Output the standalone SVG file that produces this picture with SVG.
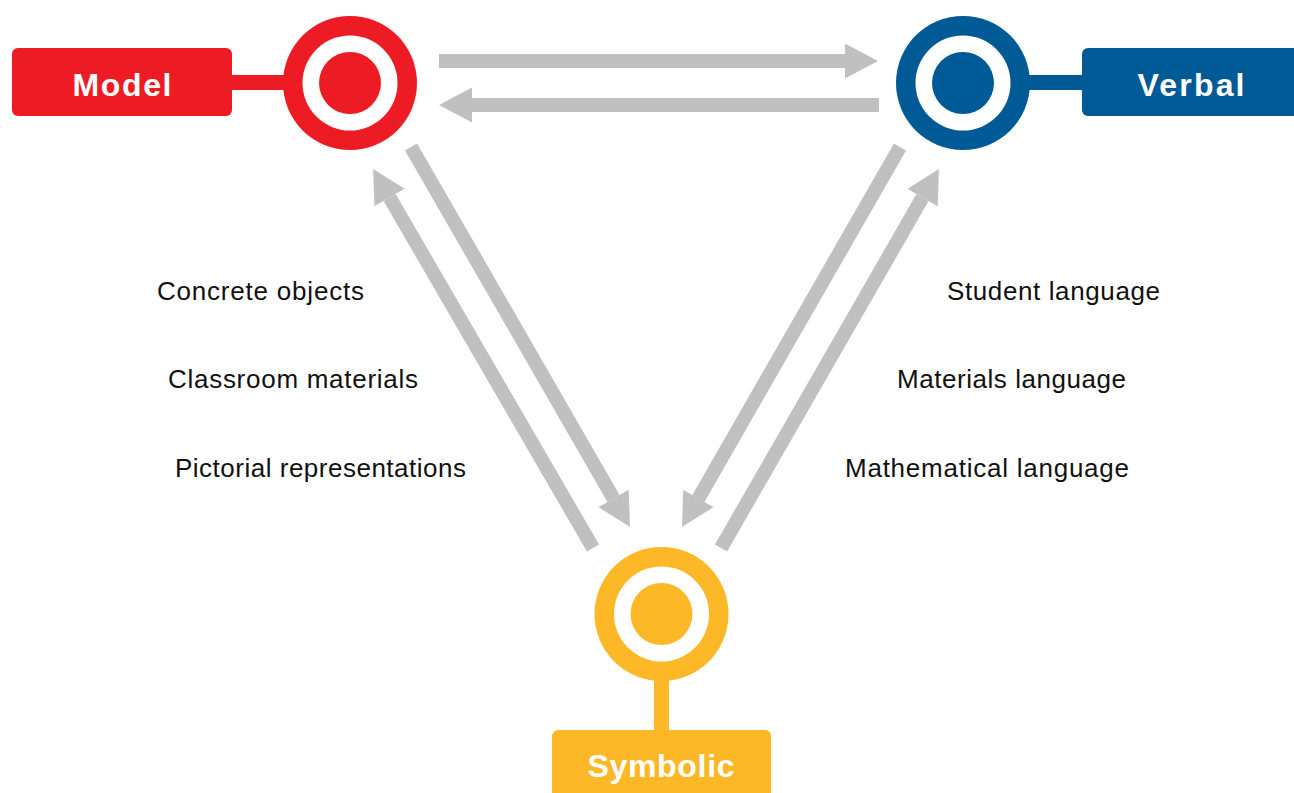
<svg xmlns="http://www.w3.org/2000/svg" width="1294" height="793" viewBox="0 0 1294 793">
<defs>
<style>
.lbl{font-family:"Liberation Sans",Arial,sans-serif;font-weight:bold;font-size:32px;fill:#ffffff;text-anchor:middle}
.txt{font-family:"Liberation Sans",Arial,sans-serif;font-size:26px;fill:#111111}
.conn line{stroke:#c0c0c0;stroke-width:14;stroke-linecap:butt;fill:none;marker-end:url(#ah)}
.red{fill:#ed1c24}
.blue{fill:#005a96}
.yel{fill:#fcb827}
</style>
<marker id="ah" viewBox="0 0 33 35" refX="0" refY="17.5" markerUnits="userSpaceOnUse" markerWidth="33" markerHeight="35" orient="auto">
<path d="M0,0 L33,17.5 L0,35 z" fill="#c0c0c0"/>
</marker>
</defs>
<rect width="1294" height="793" fill="#ffffff"/>
<g id="connectors" class="conn">
<line x1="439" y1="61" x2="845" y2="61"/>
<line x1="879" y1="105" x2="472" y2="105"/>
<line x1="411" y1="147" x2="613.5" y2="498.4"/>
<line x1="593" y1="548" x2="389.6" y2="197.5"/>
<line x1="900" y1="147" x2="698.4" y2="498.4"/>
<line x1="721" y1="548" x2="922.5" y2="197.6"/>
</g>
<g id="model">
<rect class="red" x="12" y="48" width="220" height="68" rx="6"/>
<rect class="red" x="230" y="75" width="56" height="15"/>
<circle class="red" cx="350" cy="83" r="67"/>
<circle cx="350" cy="83" r="47.5" fill="#ffffff"/>
<circle class="red" cx="350" cy="83" r="31"/>
<text class="lbl" x="122" y="96" textLength="99" lengthAdjust="spacing">Model</text>
</g>
<g id="verbal">
<rect class="blue" x="1082" y="48" width="230" height="68" rx="6"/>
<rect class="blue" x="1027" y="75" width="57" height="15"/>
<circle class="blue" cx="963" cy="83" r="67"/>
<circle cx="963" cy="83" r="47.5" fill="#ffffff"/>
<circle class="blue" cx="963" cy="83" r="31"/>
<text class="lbl" x="1191" y="96" textLength="107" lengthAdjust="spacing">Verbal</text>
</g>
<g id="symbolic">
<rect class="yel" x="552" y="730" width="219" height="80" rx="6"/>
<rect class="yel" x="654" y="676" width="15" height="56"/>
<circle class="yel" cx="661.5" cy="614" r="67"/>
<circle cx="661.5" cy="614" r="47.5" fill="#ffffff"/>
<circle class="yel" cx="661.5" cy="614" r="31"/>
<text class="lbl" x="661" y="777" textLength="147" lengthAdjust="spacing">Symbolic</text>
</g>
<g id="model-notes">
<text class="txt" x="157" y="300" textLength="207" lengthAdjust="spacing">Concrete objects</text>
<text class="txt" x="168" y="388" textLength="250" lengthAdjust="spacing">Classroom materials</text>
<text class="txt" x="175" y="477" textLength="291" lengthAdjust="spacing">Pictorial representations</text>
</g>
<g id="verbal-notes">
<text class="txt" x="947" y="300" textLength="213" lengthAdjust="spacing">Student language</text>
<text class="txt" x="897" y="388" textLength="229" lengthAdjust="spacing">Materials language</text>
<text class="txt" x="845" y="477" textLength="284" lengthAdjust="spacing">Mathematical language</text>
</g>
</svg>
